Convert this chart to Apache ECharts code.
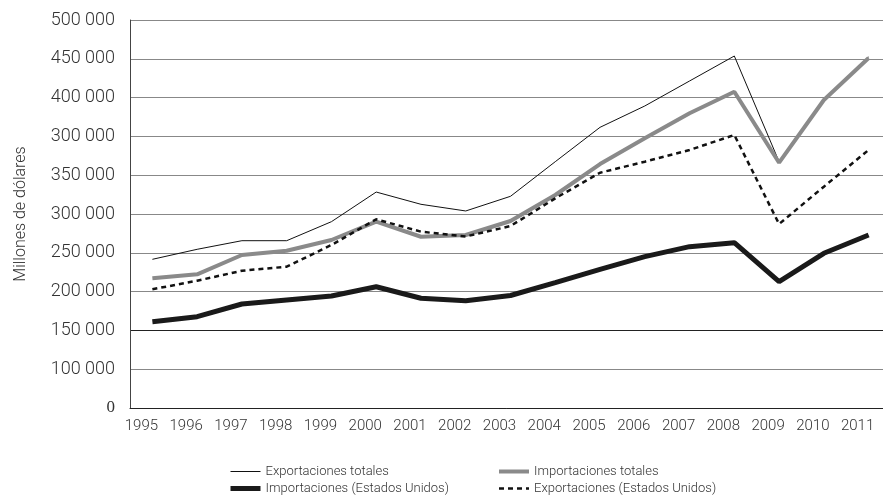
<!DOCTYPE html>
<html>
<head>
<meta charset="utf-8">
<script src="https://cdn.jsdelivr.net/npm/echarts@6/dist/echarts.min.js"></script>
<style>
html,body{margin:0;padding:0;background:#fff;}
#chart{width:883px;height:500px;}
</style>
</head>
<body>
<div id="chart"></div>
<script>
// Categories (years)
var years = ['1995','1996','1997','1998','1999','2000','2001','2002','2003','2004','2005','2006','2007','2008','2009','2010','2011'];
// Tick labels of the value axis exactly as printed (bottom to top)
var yTickLabels = ['0','100 000','150 000','200 000','250 000','300 000','350 000','300 000','400 000','450 000','500 000'];
// Series values (thousands, on the axis' linear scale)
var exportTotal = [191.6,204.5,215.6,215.6,240.1,278.3,262.5,253.9,272.8,317.4,361.7,389.2,421.4,453.6,317.4,398.2,452.3];
var importTotal = [167.1,172.3,197.2,202.7,216.5,240.1,220.7,222.9,241.0,274.5,314.4,347.5,379.8,407.6,316.1,396.9,451.0];
var exportUS    = [153.0,164.0,176.9,182.1,210.1,243.2,227.2,221.0,234.5,270.2,303.2,317.4,332.5,351.8,237.1,285.2,332.5];
var importUS    = [111.2,117.7,134.0,139.2,144.3,156.3,141.4,138.1,145.0,161.5,178.7,195.0,207.9,213.0,162.8,199.4,222.9];

var FONT = 'Roboto, "Open Sans", sans-serif';
var chart = echarts.init(document.getElementById('chart'), null, {renderer:'canvas'});
var legendCommon = {
  orient: 'vertical', top: 465, padding: 0, itemGap: 4, itemWidth: 30, itemHeight: 12,
  textStyle: {fontSize: 13, color: '#333', fontFamily: FONT, fontWeight: 300},
  itemStyle: {opacity: 0}
};
var option = {
  animation: false,
  backgroundColor: '#fff',
  textStyle: {fontFamily: FONT, color: '#333'},
  grid: {left: 130, right: -8, top: 20, bottom: 92, containLabel: false, outerBoundsMode: 'none'},
  xAxis: {
    type: 'category',
    data: years,
    boundaryGap: true,
    axisLine: {show: true, lineStyle: {color: '#222', width: 1}},
    axisTick: {show: false},
    axisLabel: {fontSize: 15, color: '#333', margin: 11, padding: [0, 22, 0, 0], fontFamily: FONT, fontWeight: 300, interval: 0},
    splitLine: {show: false}
  },
  yAxis: {
    type: 'value',
    min: 0, max: 500, interval: 50,
    name: 'Millones de dólares',
    nameLocation: 'middle',
    nameRotate: 90,
    nameGap: 101,
    nameTextStyle: {fontSize: 16, color: '#333', fontFamily: FONT, fontWeight: 300},
    axisLine: {show: true, lineStyle: {color: '#444', width: 1}},
    axisTick: {show: false},
    axisLabel: {
      fontSize: 18, color: '#333', margin: 15, fontFamily: FONT, fontWeight: 300,
      formatter: function (v) {
        var s = yTickLabels[Math.round(v / 50)];
        return s === '0' ? '{z|0}' : s;
      },
      rich: {z: {fontFamily: '"Liberation Serif", serif', fontSize: 17, color: '#333'}}
    },
    splitLine: {show: true, lineStyle: {color: ['#888','#888','#222','#888','#888','#888','#888','#888','#888','#888','#888'], width: 1}}
  },
  legend: [
    Object.assign({}, legendCommon, {left: 228, data: [
      {name: 'Exportaciones totales', lineStyle: {width: 1, color: '#111'}},
      {name: 'Importaciones (Estados Unidos)', lineStyle: {width: 5, color: '#1a1a1a'}}
    ]}),
    Object.assign({}, legendCommon, {left: 497, data: [
      {name: 'Importaciones totales', lineStyle: {width: 4, color: '#8a8a8a'}},
      {name: 'Exportaciones (Estados Unidos)', lineStyle: {width: 2.5, color: '#111', type: [5, 4]}}
    ]})
  ],
  series: [
    {name: 'Exportaciones totales', type: 'line', data: exportTotal, symbol: 'none', z: 1,
     lineStyle: {color: '#111', width: 1}, itemStyle: {color: '#111'}},
    {name: 'Importaciones totales', type: 'line', data: importTotal, symbol: 'none', z: 2,
     lineStyle: {color: '#8a8a8a', width: 4}, itemStyle: {color: '#8a8a8a'}},
    {name: 'Exportaciones (Estados Unidos)', type: 'line', data: exportUS, symbol: 'none', z: 3,
     lineStyle: {color: '#111', width: 2.5, type: [5, 4]}, itemStyle: {color: '#111'}},
    {name: 'Importaciones (Estados Unidos)', type: 'line', data: importUS, symbol: 'none', z: 4,
     lineStyle: {color: '#1a1a1a', width: 5}, itemStyle: {color: '#1a1a1a'}}
  ]
};
chart.setOption(option);
</script>
</body>
</html>
